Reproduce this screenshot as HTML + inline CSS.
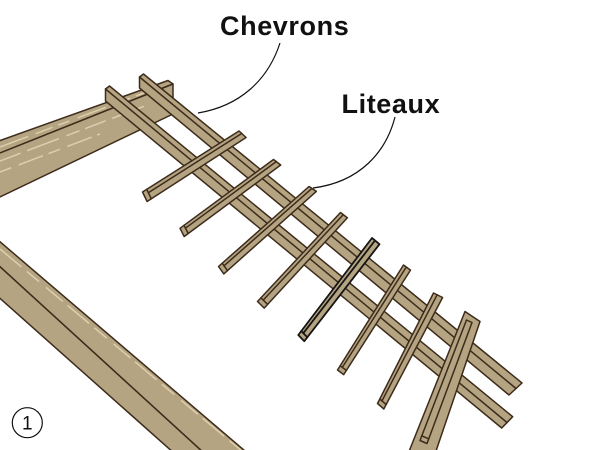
<!DOCTYPE html>
<html><head><meta charset="utf-8"><style>html,body{margin:0;padding:0;background:#fff;}svg{display:block}</style></head>
<body>
<svg width="600" height="450" viewBox="0 0 600 450" xmlns="http://www.w3.org/2000/svg">
<rect width="600" height="450" fill="#fff"/>
<g fill="#b5a482" stroke="#3d2b1b" stroke-width="1.5" stroke-linejoin="round" stroke-linecap="round">
  <!-- bottom-left beam -->
  <polygon points="-3,239.2 248.5,454 205,454 -3,264"/>
  <polygon points="-3,264 205,454 175,454 -3,295.7"/>
  <!-- top-left wall plate -->
  <polygon points="-3,141.6 168,80.5 173,84 -3,154.2"/>
  <polygon points="-3,154.2 173,84 173,114 -3,198.4"/>
</g>
<g fill="none" stroke="#dccfae" stroke-width="1.5">
  <path d="M0,249 L243,452" stroke-dasharray="28 7 16 9 22 6"/>
  <path d="M0,147 L160,87" stroke-dasharray="30 8 18 6 12 9"/>
  <path d="M0,161 L150,104" stroke-dasharray="22 7 34 8 14 6"/>
  <path d="M0,172 L100,134" stroke-dasharray="12 8 26 6"/>
</g>
<g fill="#b5a482" stroke="#3d2b1b" stroke-width="1.5" stroke-linejoin="round" stroke-linecap="round">
  <!-- chevron A (upper) -->
  <polygon points="143.5,74 522,383 509,395 139.5,88 139.5,77"/>
  <line x1="139.5" y1="77" x2="516" y2="388.5"/>
  <!-- chevron B (lower) -->
  <polygon points="109.5,86 512.7,416.7 501.7,428 105.5,101 105.5,89"/>
  <line x1="105.5" y1="89" x2="507" y2="422.5"/>

  <!-- liteaux -->
  <polygon points="142.5,192 239,131 246.1,137.5 147.1,201.5"/>
  <line x1="146.7" y1="189.3" x2="151.3" y2="198.8"/>
  <line x1="148.3" y1="192.7" x2="241.8" y2="133.4"/>

  <polygon points="180,228.3 273.5,159.5 280.7,165 184.2,236.5"/>
  <line x1="184" y1="225.3" x2="188.2" y2="233.5"/>
  <line x1="185.4" y1="228.2" x2="276.4" y2="161.5"/>

  <polygon points="218.5,266.5 309,186.5 316.3,191.4 223.8,273.9"/>
  <line x1="222.2" y1="263.2" x2="227.5" y2="270.6"/>
  <line x1="224" y1="265.8" x2="311.9" y2="188.4"/>

  <polygon points="257.5,301.5 340.5,212.5 347.4,217.8 264.2,308.1"/>
  <line x1="260.9" y1="297.8" x2="267.6" y2="304.4"/>
  <line x1="263.2" y1="300.1" x2="343.3" y2="214.6"/>

  <g stroke="#151515" stroke-width="1.8">
  <polygon points="298.3,335 372,238 379.5,244.2 304.3,341.2"/>
  <line x1="301.3" y1="331" x2="307.3" y2="337.2"/>
  <line x1="303.3" y1="333.2" x2="375" y2="240.5"/>
  </g>

  <polygon points="337.5,370 403.5,265 410.5,270.1 343.7,374.6"/>
  <line x1="340.2" y1="365.8" x2="346.4" y2="370.4"/>
  <line x1="342.3" y1="367.4" x2="406.3" y2="267"/>

  <polygon points="377.5,403.5 433.5,293 442.6,297.5 383.8,409"/>
  <line x1="379.8" y1="399" x2="386.1" y2="404.5"/>
  <line x1="381.9" y1="401" x2="437.1" y2="294.8"/>

  <polygon points="465,311.5 480,321.5 435,454 408,454"/>
  <polygon points="466.5,320 472,322.5 427,443.5 420,440.5"/>
  <line x1="421.7" y1="435.8" x2="428.7" y2="438.8"/>
</g>

<g fill="none" stroke="#111" stroke-width="1.2">
  <path d="M280,43 C268,80 240,106 198,113"/>
  <path d="M395,117 C386,152 360,182 313,188"/>
  <circle cx="27.3" cy="422.7" r="15"/>
</g>
<text x="220" y="35" font-family="Liberation Sans, sans-serif" font-weight="bold" font-size="27" letter-spacing="0.6" fill="#111">Chevrons</text>
<text x="341.5" y="113" font-family="Liberation Sans, sans-serif" font-weight="bold" font-size="27" letter-spacing="0.6" fill="#111">Liteaux</text>
<text x="27.3" y="429.5" text-anchor="middle" font-family="Liberation Sans, sans-serif" font-size="19" fill="#111">1</text>
</svg>
</body></html>
